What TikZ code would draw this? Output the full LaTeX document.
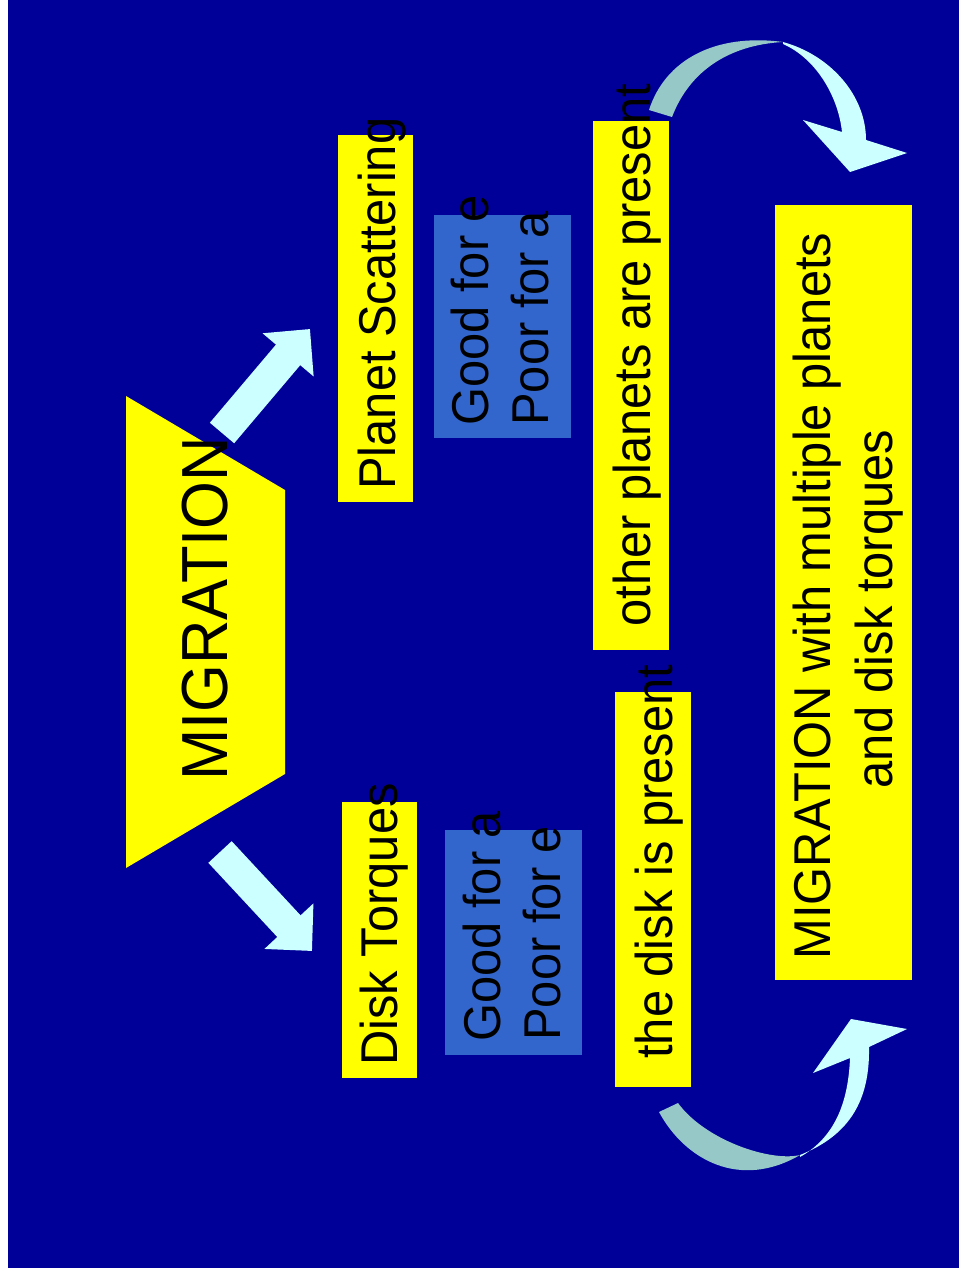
\documentclass[tikz,border=0pt]{standalone}
\usepackage{fontspec}
\setmainfont{Liberation Sans}
\usetikzlibrary{arrows.meta}
\definecolor{sblue}{RGB}{0,0,153}
\definecolor{syellow}{RGB}{255,255,0}
\definecolor{nblue}{RGB}{51,102,204}
\definecolor{acyan}{RGB}{204,255,255}
\definecolor{agray}{RGB}{150,200,200}
\tikzset{ybox/.style = {fill=syellow, inner sep=0}}
\tikzset{nbox/.style = {fill=nblue, inner sep=0}}
\tikzset{txt/.style = {rotate=90, yscale=1.06, inner sep=0, text=black,
                       font=\fontsize{27.8}{34}\selectfont}}
\tikzset{blockarrow/.style = {acyan, line width=18.1pt,
                              -{Triangle[width=36.9pt, length=19.3pt]}}}

\begin{document}
\begin{tikzpicture}[x=0.02cm, y=-0.02cm]
      \useasboundingbox (0,0) rectangle (959,1273);
      \fill [white] (0,0) rectangle (959,1273);
      \fill [sblue] (8,0) rectangle (959,1268);
      % top of the tree
      \fill [syellow] (126,396) -- (285,490) -- (285,774) -- (126,868) -- cycle;
      \node [txt, font=\fontsize{35}{42}\selectfont, anchor=base] (mig) at (227,609) {MIGRATION};
      % the two ways
      \node [ybox, minimum width=1.5cm, minimum height=7.34cm] (psbox) at (375.5,318.5) {};
      \node [ybox, minimum width=1.5cm, minimum height=5.52cm] (dtbox) at (379.5,940) {};
      \node [nbox, minimum width=2.74cm, minimum height=4.46cm] (psnote) at (502.5,326.5) {};
      \node [nbox, minimum width=2.74cm, minimum height=4.5cm] (dtnote) at (513.5,942.5) {};
      \node [txt, anchor=base west] (ps) at (395,490) {Planet Scattering};
      \node [txt, anchor=base west] (dt) at (397,1066) {Disk Torques};
      \node [txt, anchor=base west] (psgood) at (488,426) {Good for e};
      \node [txt, anchor=base west] (pspoor) at (548,426) {Poor for a};
      \node [txt, anchor=base west] (dtgood) at (500,1042) {Good for a};
      \node [txt, anchor=base west] (dtpoor) at (560,1041) {Poor for e};
      \coordinate (migup) at (222,433);
      \coordinate (pstip) at (310,329);
      \coordinate (migdown) at (220,852);
      \coordinate (dttip) at (312,951);
      \draw [blockarrow] (migup) -- (pstip);
      \draw [blockarrow] (migdown) -- (dttip);
      % conditions
      \node [ybox, minimum width=1.52cm, minimum height=10.58cm] (opbox) at (631,385.5) {};
      \node [ybox, minimum width=1.52cm, minimum height=7.9cm] (dpbox) at (653,889.5) {};
      \node [txt, anchor=base west] (op) at (650,627) {other planets are present};
      \node [txt, anchor=base west] (dp) at (672,1059) {the disk is present};
      % result
      \node [ybox, minimum width=2.74cm, minimum height=15.5cm] (resbox) at (843.5,592.5) {};
      \node [txt, anchor=base] (resa) at (830,596) {MIGRATION with multiple planets};
      \node [txt, anchor=base] (resb) at (892,609) {and disk torques};
      % curved arrows
      \fill [agray] (649,110) .. controls (665,60) and (715,33) .. (783,42)
                    .. controls (730,45) and (690,70) .. (672,117) -- cycle;
      \fill [acyan] (783,42) .. controls (830,55) and (866,95) .. (866,140)
                    -- (907,153) -- (850,172) -- (803,120) -- (842,132)
                    .. controls (838,95) and (815,58) .. (783,44) -- cycle;
      \fill [agray] (659,1112) .. controls (685,1160) and (740,1190) .. (800,1155)
                    .. controls (770,1162) and (705,1140) .. (678,1103) -- cycle;
      \fill [acyan] (800,1155) .. controls (850,1135) and (870,1100) .. (869,1047)
                    -- (907,1029) -- (851,1019) -- (813,1073) -- (850,1058)
                    .. controls (848,1110) and (830,1140) .. (800,1157) -- cycle;
    \end{tikzpicture}
\end{document}
